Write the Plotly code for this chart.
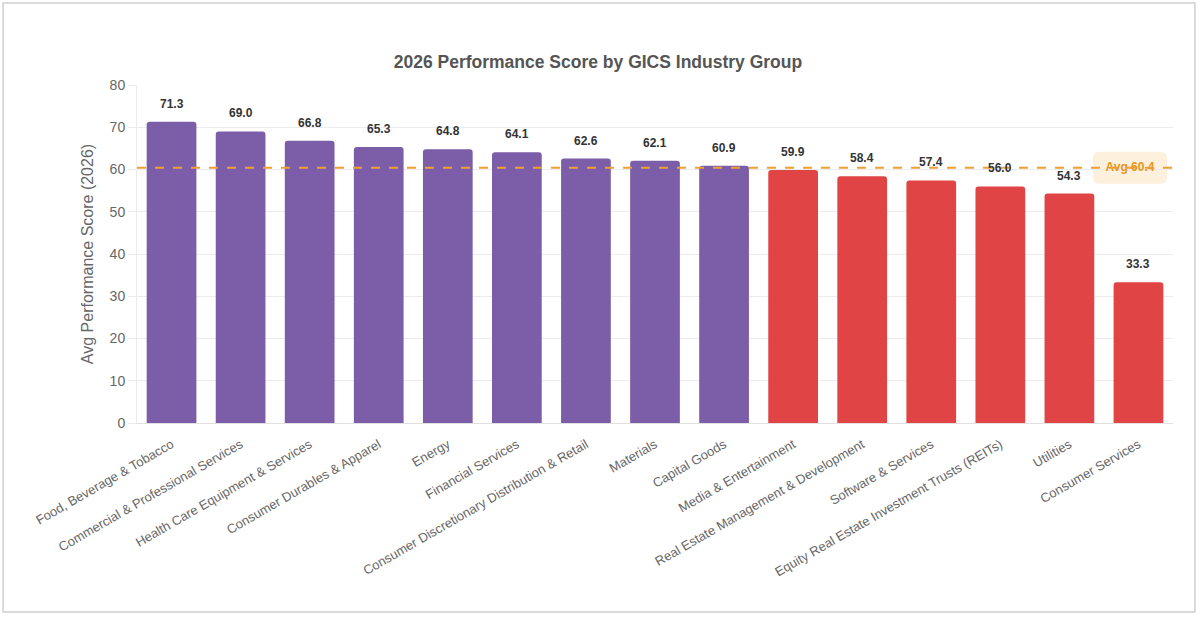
import plotly.graph_objects as go

categories = [
    "Food, Beverage & Tobacco", "Commercial & Professional Services",
    "Health Care Equipment & Services", "Consumer Durables & Apparel",
    "Energy", "Financial Services", "Consumer Discretionary Distribution & Retail",
    "Materials", "Capital Goods", "Media & Entertainment",
    "Real Estate Management & Development", "Software & Services",
    "Equity Real Estate Investment Trusts (REITs)", "Utilities", "Consumer Services",
]
scores = [71.3, 69.0, 66.8, 65.3, 64.8, 64.1, 62.6, 62.1, 60.9, 59.9, 58.4, 57.4, 56.0, 54.3, 33.3]
y_ticks = [0, 10, 20, 30, 40, 50, 60, 70, 80]

avg = sum(scores) / len(scores)
PURPLE = "#7B5EA7"
RED = "#E04444"
colors = [PURPLE if v >= avg else RED for v in scores]
FONT = "Arial, Liberation Sans, sans-serif"

fig = go.Figure()
fig.add_trace(go.Bar(
    x=categories, y=scores, marker=dict(color=colors, line=dict(width=0), cornerradius=3),
    hoverinfo="x+y", showlegend=False,
))
# avg label text on an overlay axis (so the dashed line strikes through it)
LBL_X0, LBL_X1 = 0.9228, 0.9942
fig.add_trace(go.Scatter(
    x=[(LBL_X0 + LBL_X1) / 2], y=[avg], xaxis="x2", mode="text", text=[f"Avg {avg:.1f}"],
    textfont=dict(family=FONT, size=12, color="#E8951C", weight="bold"),
    textposition="middle center", showlegend=False, hoverinfo="skip",
))

annotations = []
for c, v in zip(categories, scores):
    annotations.append(dict(
        x=c, y=v, text=f"<b>{v:.1f}</b>", showarrow=False, yshift=18,
        font=dict(family=FONT, size=12, color="#333333"),
    ))

# rounded label box path (x in x2 units 0..1 across plot, y in data units)
rx, ry = 6 / 1036, 6 / 4.225
y0b, y1b = avg - 3.8, avg + 3.8
box_path = (
    f"M {LBL_X0 + rx} {y0b} L {LBL_X1 - rx} {y0b} Q {LBL_X1} {y0b} {LBL_X1} {y0b + ry} "
    f"L {LBL_X1} {y1b - ry} Q {LBL_X1} {y1b} {LBL_X1 - rx} {y1b} "
    f"L {LBL_X0 + rx} {y1b} Q {LBL_X0} {y1b} {LBL_X0} {y1b - ry} "
    f"L {LBL_X0} {y0b + ry} Q {LBL_X0} {y0b} {LBL_X0 + rx} {y0b} Z"
)

shapes = [
    dict(type="rect", xref="paper", yref="paper", x0=-0.1293, x1=1.0212, y0=-0.559, y1=1.2426,
         line=dict(color="#d0d0d0", width=1.5), fillcolor="rgba(0,0,0,0)", layer="below"),
    dict(type="path", xref="x2", yref="y", path=box_path,
         line=dict(width=0), fillcolor="#FDF0DC", layer="below"),
    dict(type="line", xref="paper", yref="y", x0=0, x1=1, y0=avg, y1=avg,
         line=dict(color="#F0A030", width=2, dash="dash"), layer="above"),
]

fig.update_layout(
    width=1200, height=619,
    margin=dict(l=137, r=27, t=85, b=196),
    paper_bgcolor="white", plot_bgcolor="white",
    font=dict(family=FONT, color="#666666"),
    title=dict(text="<b>2026 Performance Score by GICS Industry Group</b>",
               x=0.4983, xanchor="center", y=0.9, yanchor="middle",
               font=dict(family=FONT, size=17.5, color="#555555")),
    bargap=0.28,
    annotations=annotations,
    shapes=shapes,
    xaxis2=dict(overlaying="x", range=[0, 1], visible=False, fixedrange=True),
)
fig.update_xaxes(
    selector=dict(anchor="y"),
)
fig.layout.xaxis.update(
    range=[-0.5, len(categories) - 0.5],
    tickangle=-30, tickfont=dict(family=FONT, size=13, color="#666666"),
    showline=True, linecolor="#e0e0e0", linewidth=1, showgrid=False,
    ticks="", fixedrange=True, ticklabelstandoff=8,
)
fig.update_yaxes(
    range=[0, 80], tickvals=y_ticks, tickfont=dict(family=FONT, size=14, color="#666666"),
    title=dict(text="Avg Performance Score (2026)", font=dict(family=FONT, size=16, color="#666666"), standoff=12),
    showgrid=True, gridcolor="#ececec", gridwidth=1, zeroline=False,
    showline=True, linecolor="#ececec", ticks="outside", ticklen=8, tickcolor="#ececec",
)

fig.write_html("out.html")
